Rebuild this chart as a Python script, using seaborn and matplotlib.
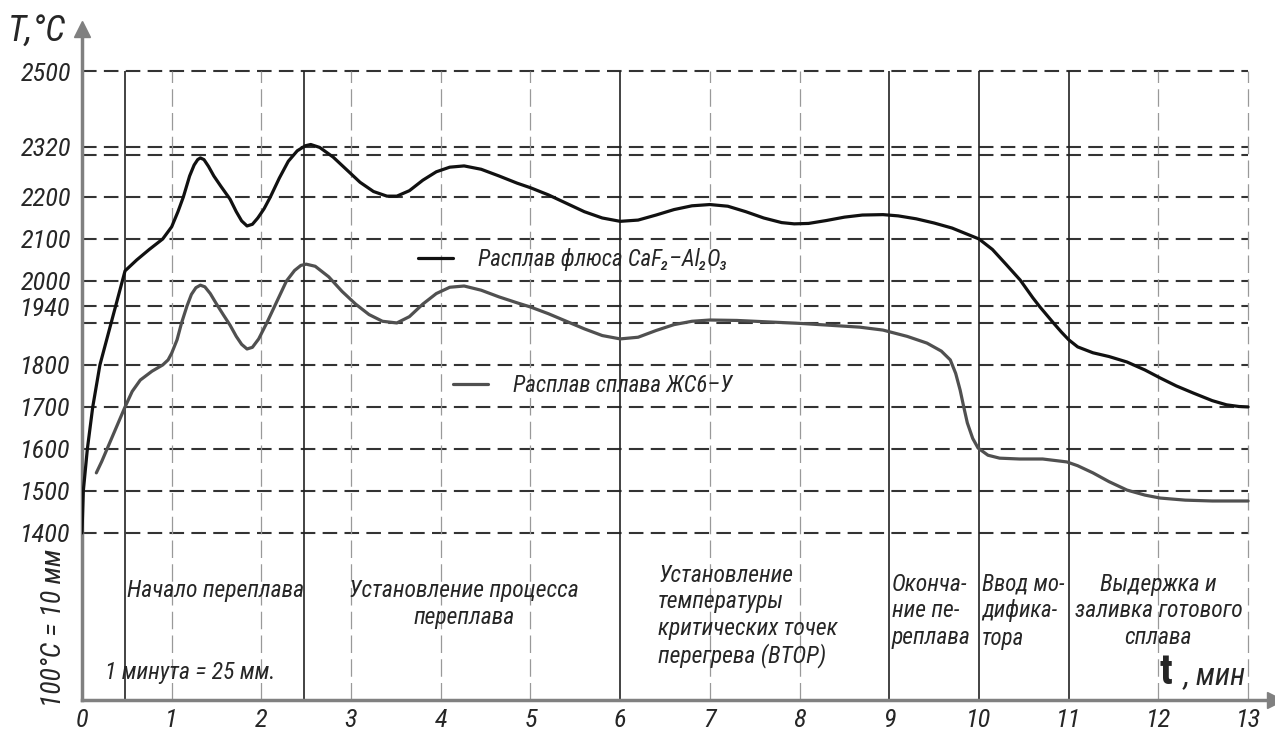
import pandas as pd
import seaborn as sns
import matplotlib.pyplot as plt

# Readings: time in minutes, temperature in deg C
flux_t = [0, 0.015, 0.06, 0.12, 0.2, 0.27, 0.34, 0.41, 0.48, 0.61, 0.75, 0.9, 1.0,
          1.07, 1.13, 1.2, 1.25, 1.29, 1.32, 1.36, 1.41, 1.47, 1.55, 1.65, 1.72, 1.78, 1.84,
          1.9, 1.96, 2.03, 2.1, 2.2, 2.3, 2.4, 2.49, 2.55, 2.65, 2.8, 2.95, 3.1, 3.25, 3.4,
          3.51, 3.65, 3.8, 3.95, 4.1, 4.26, 4.45, 4.65, 4.85, 5.0, 5.2, 5.4, 5.6, 5.8, 6.0,
          6.2, 6.4, 6.6, 6.8, 7.0, 7.2, 7.4, 7.6, 7.8, 7.94, 8.1, 8.3, 8.5, 8.7, 8.93, 9.1,
          9.3, 9.5, 9.7, 9.85, 10.0, 10.15, 10.3, 10.46, 10.6, 10.68, 10.83, 10.92, 11.0,
          11.1, 11.27, 11.45, 11.65, 11.85, 12.02, 12.2, 12.39, 12.6, 12.76, 12.9, 13.0]
flux_T = [1400, 1500, 1600, 1700, 1800, 1856, 1912, 1968, 2024, 2050, 2075, 2100, 2129,
          2165, 2200, 2250, 2276, 2289, 2293, 2289, 2273, 2250, 2225, 2195, 2165, 2143, 2131,
          2135, 2150, 2172, 2200, 2245, 2285, 2310, 2322, 2325, 2318, 2295, 2265, 2235, 2213, 2202,
          2202, 2215, 2240, 2260, 2271, 2274, 2266, 2250, 2233, 2222, 2205, 2185, 2165, 2150, 2142,
          2145, 2157, 2170, 2179, 2182, 2178, 2165, 2150, 2139, 2136, 2137, 2144, 2152, 2157, 2158, 2155,
          2148, 2138, 2126, 2113, 2100, 2075, 2040, 2002, 1960, 1938, 1900, 1878, 1860,
          1843, 1829, 1820, 1807, 1788, 1769, 1750, 1733, 1715, 1705, 1701, 1700]

alloy_t = [0.16, 0.22, 0.28, 0.38, 0.48, 0.56, 0.65, 0.78, 0.9, 0.96, 1.0, 1.06, 1.11, 1.17,
           1.22, 1.27, 1.32, 1.37, 1.43, 1.5, 1.58, 1.65, 1.72, 1.78, 1.84, 1.9, 1.97, 2.06,
           2.17, 2.28, 2.37, 2.44, 2.5, 2.6, 2.75, 2.9, 3.05, 3.2, 3.35, 3.51, 3.65, 3.8, 3.95,
           4.1, 4.26, 4.45, 4.65, 4.85, 5.0, 5.2, 5.4, 5.6, 5.8, 6.0, 6.2, 6.4, 6.6, 6.8, 7.0,
           7.3, 7.6, 8.0, 8.3, 8.67, 8.93, 9.2, 9.42, 9.58, 9.68, 9.74, 9.79, 9.83, 9.87, 9.93,
           9.99, 10.1, 10.23, 10.45, 10.71, 10.98, 11.1, 11.27, 11.45, 11.65, 11.85, 12.02,
           12.3, 12.6, 13.0]
alloy_T = [1543, 1570, 1600, 1650, 1700, 1737, 1764, 1785, 1800, 1812, 1828, 1860, 1900, 1940,
           1968, 1984, 1990, 1986, 1970, 1945, 1918, 1895, 1868, 1849, 1838, 1842, 1862, 1900,
           1950, 2000, 2025, 2037, 2040, 2035, 2010, 1975, 1945, 1920, 1904, 1900, 1915, 1945, 1970,
           1985, 1988, 1978, 1962, 1948, 1938, 1922, 1904, 1886, 1870, 1862, 1866, 1882, 1896, 1904, 1907,
           1906, 1903, 1899, 1895, 1890, 1883, 1868, 1852, 1833, 1812, 1780, 1740, 1700, 1662, 1625,
           1602, 1585, 1578, 1576, 1576, 1569, 1560, 1543, 1522, 1502, 1490, 1483,
           1478, 1476, 1476]

flux_name = 'Расплав флюса CaF₂–Al₂O₃'
alloy_name = 'Расплав сплава ЖС6–У'

y_ticks = [1400, 1500, 1600, 1700, 1800, 1940, 2000, 2100, 2200, 2320, 2500]
h_levels = [1400, 1500, 1600, 1700, 1800, 1900, 1940, 2000, 2100, 2200, 2300, 2320, 2500]
x_ticks = list(range(0, 14))
minute_lines = [1, 2, 3, 4, 5, 7, 8, 12, 13]
stage_bounds = [0.48, 2.48, 6, 9, 10, 11]

stage_texts = ['Начало переплава',
               'Установление процесса\nпереплава',
               'Установление\nтемпературы\nкритических точек\nперегрева (ВТОР)',
               'Оконча-\nние пе-\nреплава',
               'Ввод мо-\nдифика-\nтора',
               'Выдержка и\nзаливка готового\nсплава']

df = pd.concat([
    pd.DataFrame({'t': flux_t, 'T': flux_T, 'melt': flux_name}),
    pd.DataFrame({'t': alloy_t, 'T': alloy_T, 'melt': alloy_name}),
])

sns.set_style('white')
plt.rcParams['font.family'] = ['Roboto Condensed', 'Roboto', 'DejaVu Sans']
plt.rcParams['font.style'] = 'italic'

fig = plt.figure(figsize=(12.75, 7.33), dpi=100)
ax = fig.add_axes([0.0643, 0.045, 0.9357, 0.9154])

# grid of the drawing
ax.hlines(h_levels, 0, 13, colors='#333333', linewidth=1.5, linestyles=(0, (7, 3.5)), zorder=1)
ax.vlines(minute_lines, 1002, 2500, colors='#999999', linewidth=0.9, linestyles=(0, (14, 5)), zorder=1)
ax.vlines(stage_bounds, 1002, 2500, colors='#222222', linewidth=1.2, zorder=1)

sns.lineplot(data=df, x='t', y='T', hue='melt', palette=['#111111', '#505050'],
             linewidth=2.3, sort=False, estimator=None, legend=False, ax=ax, zorder=3)

lines = ax.get_lines()
leg_kw = dict(loc='center left', bbox_transform=ax.transData, frameon=False, borderpad=0,
              borderaxespad=0, handlelength=1.5, handletextpad=1.1, fontsize=16.5)
leg1 = ax.legend([lines[0]], [flux_name], bbox_to_anchor=(3.75, 2050), **leg_kw)
ax.add_artist(leg1)
ax.legend([lines[1]], [alloy_name], bbox_to_anchor=(4.14, 1750), **leg_kw)

ax.set_xlim(0, 13.3)
ax.set_ylim(1002, 2600)
ax.set_xticks(x_ticks)
ax.set_yticks(y_ticks)
ax.tick_params(axis='y', length=0, labelsize=19, pad=8)
ax.tick_params(axis='x', length=0, labelsize=19, pad=6)
ax.set_xlabel('')
ax.set_ylabel('')

for side in ['top', 'right']:
    ax.spines[side].set_visible(False)
for side in ['left', 'bottom']:
    ax.spines[side].set_color('#808080')
    ax.spines[side].set_linewidth(2.5)
ax.plot(1, 0, '>', color='#808080', markersize=11, transform=ax.transAxes, clip_on=False)
ax.plot(0, 1, '^', color='#808080', markersize=11, transform=ax.transAxes, clip_on=False)

# stage captions
txt = dict(fontsize=17, linespacing=1.2, va='center')
ax.text(1.49, 1262, stage_texts[0], ha='center', **txt)
ax.text(4.26, 1231, stage_texts[1], ha='center', multialignment='center', **txt)
ax.text(6.42, 1202, stage_texts[2], ha='left', **txt)
ax.text(9.03, 1214, stage_texts[3], ha='left', **txt)
ax.text(10.03, 1214, stage_texts[4], ha='left', fontsize=16.5, linespacing=1.24, va='center')
ax.text(12.0, 1214, stage_texts[5], ha='center', multialignment='center', **txt)

ax.text(0.26, 1067, '1 минута = 25 мм.', ha='left', va='center', fontsize=17)
ax.text(-0.31, 1174, '100°C = 10 мм', rotation=90, ha='center', va='center', fontsize=20, clip_on=False)
ax.text(12.98, 1040, ', мин', ha='right', va='baseline', fontsize=22)
ax.text(12.16, 1040, 't', ha='right', va='baseline', fontsize=30, fontweight='bold', fontstyle='normal')
fig.text(0.029, 0.958, 'T,°C', ha='center', va='center', fontsize=26)

plt.savefig('out.png', dpi=100)
plt.close()
